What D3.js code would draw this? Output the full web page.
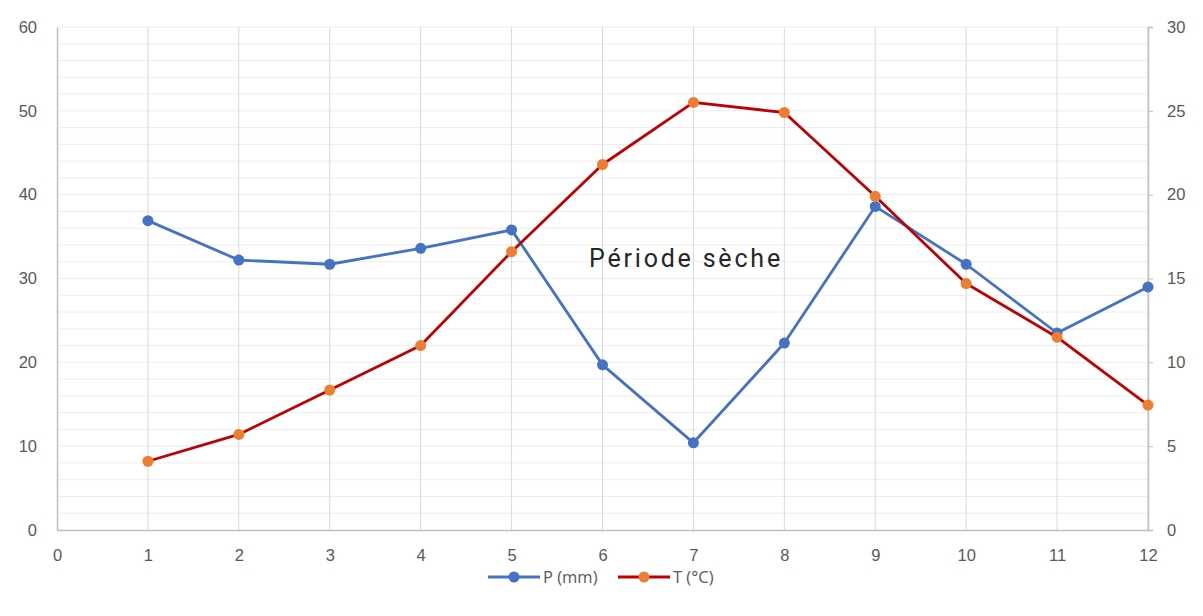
<!DOCTYPE html>
<html>
<head>
<meta charset="utf-8">
<script src="https://cdn.jsdelivr.net/npm/d3@7"></script>
<style>
  body { margin: 0; background: #fff; }
  svg { font-family: "Open Sans", "Noto Sans", sans-serif; }
</style>
</head>
<body>
<svg id="chart"></svg>
<script>
const months = [1, 2, 3, 4, 5, 6, 7, 8, 9, 10, 11, 12];
const precip = [36.9, 32.2, 31.7, 33.6, 35.8, 19.7, 10.4, 22.3, 38.6, 31.7, 23.5, 29.0];
const temp = [4.1, 5.7, 8.35, 11.0, 16.6, 21.8, 25.5, 24.9, 19.9, 14.7, 11.5, 7.45];
const xTicks = [0, 1, 2, 3, 4, 5, 6, 7, 8, 9, 10, 11, 12];
const leftTicks = [0, 10, 20, 30, 40, 50, 60];
const rightTicks = [0, 5, 10, 15, 20, 25, 30];

const W = 1203, H = 616;
const mLeft = 57, mRight = 1148, mTop = 27, mBottom = 530;

const svg = d3.select('#chart').attr('width', W).attr('height', H);

const x = d3.scaleLinear().domain([0, 12]).range([mLeft, mRight]);
const yL = d3.scaleLinear().domain([0, 60]).range([mBottom, mTop]);
const yR = d3.scaleLinear().domain([0, 30]).range([mBottom, mTop]);

// horizontal gridlines every 2 units
svg.append('g')
  .selectAll('line')
  .data(d3.range(2, 61, 2))
  .join('line')
  .attr('x1', mLeft).attr('x2', mRight)
  .attr('y1', d => yL(d)).attr('y2', d => yL(d))
  .attr('stroke', '#ededed').attr('stroke-width', 1);

// vertical gridlines
svg.append('g')
  .selectAll('line')
  .data(months)
  .join('line')
  .attr('x1', d => x(d)).attr('x2', d => x(d))
  .attr('y1', mTop).attr('y2', mBottom)
  .attr('stroke', '#d9d9d9').attr('stroke-width', 1);

// axes
const xAxis = d3.axisBottom(x).tickValues(xTicks).tickSize(0).tickPadding(19);
const gx = svg.append('g').attr('transform', `translate(0,${mBottom})`).call(xAxis);
gx.select('.domain').attr('stroke', '#bfbfbf').attr('stroke-width', 1.5);

const gl = svg.append('g').attr('transform', `translate(${mLeft},0)`)
  .call(d3.axisLeft(yL).tickValues(leftTicks).tickSize(0).tickPadding(20));
gl.select('.domain').attr('stroke', '#bfbfbf').attr('stroke-width', 1.5);

const gr = svg.append('g').attr('transform', `translate(${mRight},0)`)
  .call(d3.axisRight(yR).tickValues(rightTicks).tickSize(5).tickPadding(14));
gr.select('.domain').attr('stroke', '#bfbfbf').attr('stroke-width', 1.5);
gr.selectAll('.tick line').attr('stroke', '#bfbfbf');

svg.selectAll('.tick text')
  .attr('fill', '#595959')
  .style('font-size', '16.5px');

// lines
const lineP = d3.line().x((d, i) => x(months[i])).y(d => yL(d));
const lineT = d3.line().x((d, i) => x(months[i])).y(d => yR(d));

svg.append('path').datum(precip)
  .attr('d', lineP).attr('fill', 'none')
  .attr('stroke', '#4472C4').attr('stroke-width', 2.8)
  .attr('stroke-linejoin', 'round');

svg.append('g').selectAll('circle')
  .data(precip).join('circle')
  .attr('cx', (d, i) => x(months[i])).attr('cy', d => yL(d))
  .attr('r', 5.5).attr('fill', '#4472C4');

svg.append('path').datum(temp)
  .attr('d', lineT).attr('fill', 'none')
  .attr('stroke', '#C00000').attr('stroke-width', 2.8)
  .attr('stroke-linejoin', 'round');

svg.append('g').selectAll('circle')
  .data(temp).join('circle')
  .attr('cx', (d, i) => x(months[i])).attr('cy', d => yR(d))
  .attr('r', 5.5).attr('fill', '#ED7D31');

// annotation
svg.append('text')
  .attr('x', 686).attr('y', 267)
  .attr('text-anchor', 'middle')
  .attr('fill', '#262626')
  .style('font-family', 'Roboto, sans-serif')
  .style('font-size', '25px')
  .style('letter-spacing', '2.8px')
  .text('Période sèche');

// legend
const legend = [
  { name: 'P (mm)', line: '#4472C4', dot: '#4472C4', x: 488 },
  { name: 'T (°C)', line: '#C00000', dot: '#ED7D31', x: 618 }
];
const lg = svg.append('g').selectAll('g').data(legend).join('g')
  .attr('transform', d => `translate(${d.x},577)`);
lg.append('line').attr('x1', 0).attr('x2', 52)
  .attr('stroke', d => d.line).attr('stroke-width', 2.8);
lg.append('circle').attr('cx', 26).attr('r', 5.5).attr('fill', d => d.dot);
lg.append('text').attr('x', 55).attr('dy', '0.35em')
  .attr('fill', '#595959').style('font-size', '16.5px')
  .text(d => d.name);
</script>
</body>
</html>
